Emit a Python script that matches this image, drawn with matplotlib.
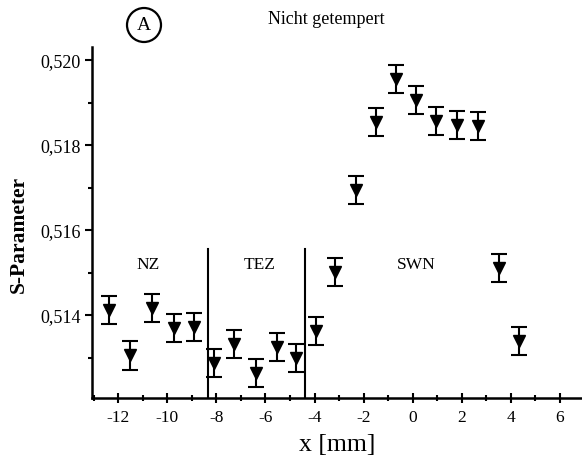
import matplotlib
matplotlib.use("Agg")
import matplotlib.pyplot as plt
from matplotlib.ticker import FuncFormatter, MultipleLocator
from matplotlib.patches import Ellipse

x_pos = [-12.37, -11.53, -10.64, -9.72, -8.92,
         -8.11, -7.28, -6.40, -5.53, -4.77,
         -3.96, -3.15, -2.29, -1.48, -0.69, 0.15, 0.96, 1.81, 2.66, 3.52, 4.33]
s_param = [0.51412, 0.51305, 0.51417, 0.51370, 0.51373,
           0.51287, 0.51332, 0.51264, 0.51325, 0.51299,
           0.51362, 0.51501, 0.51695, 0.51855, 0.51956, 0.51906, 0.51858,
           0.51847, 0.51845, 0.51511, 0.51338]
s_err = [0.00033] * len(x_pos)

zone_bounds = [-8.34, -4.37]
zone_names = ["NZ", "TEZ", "SWN"]
zone_label_x = [-10.79, -6.23, 0.16]

plt.rcParams['font.family'] = ['Liberation Serif', 'DejaVu Serif']

fig = plt.figure(figsize=(5.82, 4.66), dpi=100)
ax = fig.add_axes([0.158, 0.146, 0.842, 0.753])

ax.errorbar(x_pos, s_param, yerr=s_err, fmt='v', color='black', ms=9,
            ecolor='black', elinewidth=1.5, capsize=5.5, capthick=1.5)

for xb in zone_bounds:
    ax.plot([xb, xb], [0.51205, 0.51555], color='black', lw=1.5)

for name, xl in zip(zone_names, zone_label_x):
    ax.text(xl, 0.51518, name, ha='center', va='center', fontsize=12.5)

ax.set_xlim(-13.07, 6.9)
ax.set_ylim(0.51205, 0.52031)

ax.xaxis.set_major_locator(MultipleLocator(2))
ax.xaxis.set_minor_locator(MultipleLocator(1))
ax.yaxis.set_major_locator(MultipleLocator(0.002))
ax.yaxis.set_minor_locator(MultipleLocator(0.001))
ax.yaxis.set_major_formatter(FuncFormatter(lambda v, p: f"{v:.3f}".replace('.', ',')))
ax.xaxis.set_major_formatter(FuncFormatter(lambda v, p: f"{v:g}"))

for side in ['top', 'right']:
    ax.spines[side].set_visible(False)
for side in ['left', 'bottom']:
    ax.spines[side].set_linewidth(1.8)

ax.tick_params(axis='y', which='major', direction='out', length=5, width=1.5, labelsize=13, pad=3)
ax.tick_params(axis='y', which='minor', direction='out', length=3, width=1.5)
ax.tick_params(axis='x', which='major', direction='inout', length=7, width=1.5, labelsize=12.5, pad=5)
ax.tick_params(axis='x', which='minor', direction='inout', length=5, width=1.5)

ax.set_ylabel('S-Parameter', fontsize=15.5, fontweight='bold')
ax.yaxis.set_label_coords(-0.128, 0.467)
ax.set_xlabel('x [mm]', fontsize=18.5, labelpad=6)

fig.text(326 / 582, 1 - 20 / 466, 'Nicht getempert', ha='center', va='center', fontsize=13)
fig.text(144 / 582, 1 - 25 / 466, 'A', ha='center', va='center', fontsize=14)
fig.add_artist(Ellipse((144 / 582, 1 - 25 / 466), 34 / 582, 34 / 466,
                       transform=fig.transFigure, fill=False, lw=1.6, color='black'))

fig.savefig('out.png', dpi=100)
